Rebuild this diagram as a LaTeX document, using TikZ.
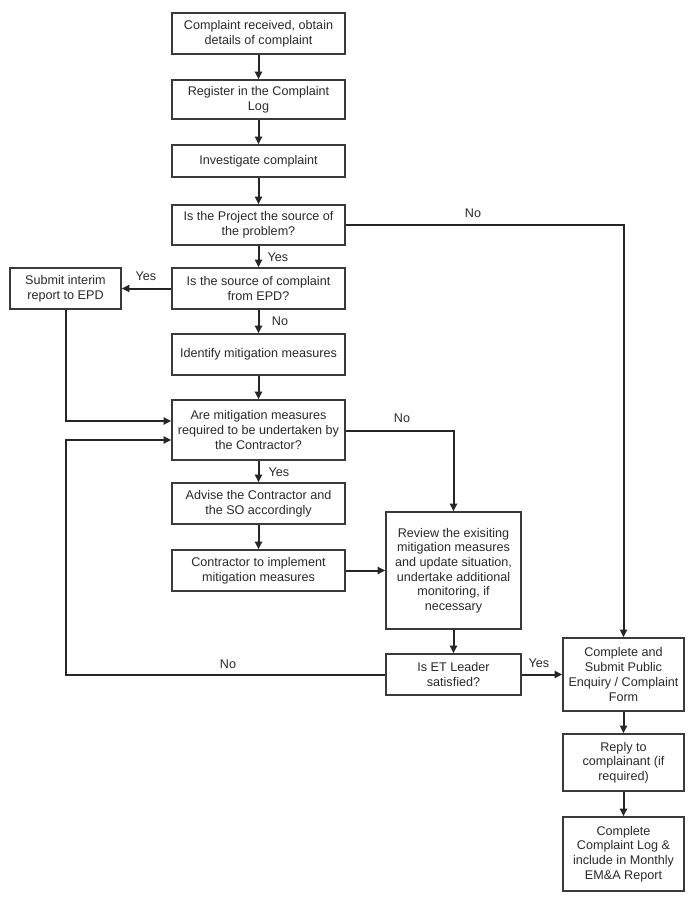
\documentclass[tikz,border=0pt]{standalone}
\usepackage{fontspec}
\setmainfont{Liberation Sans}
\usetikzlibrary{arrows.meta}
\definecolor{txt}{HTML}{2A2A2A}
\definecolor{bord}{HTML}{3A3A3A}
\begin{document}
\begin{tikzpicture}[x=1pt,y=-1pt,
  every node/.style={font=\fontsize{12.6}{14.7}\selectfont, text=txt},
  box/.style={draw=bord, line width=1.6pt, rectangle, align=center, inner sep=2pt},
  lbl/.style={inner sep=0pt},
  conn/.style={draw=black!85, line width=2pt},
  arr/.style={conn, -{Triangle[length=7.5pt,width=7pt]}}]
\useasboundingbox (0,0) rectangle (693,899);
\fill[white] (0,0) rectangle (693,899);
% main column
\node[box, minimum width=173pt, minimum height=41pt] (b1) at (258.5,33.5) {Complaint received, obtain\\details of complaint};
\node[box, minimum width=173pt, minimum height=39pt] (b2) at (258.5,99.5) {Register in the Complaint\\Log};
\node[box, minimum width=173pt, minimum height=32pt] (b3) at (258.5,161) {Investigate complaint};
\node[box, minimum width=173pt, minimum height=40pt] (b4) at (258.5,225) {Is the Project the source of\\the problem?};
\node[box, minimum width=173pt, minimum height=41pt] (b5) at (258.5,288.5) {Is the source of complaint\\from EPD?};
\node[box, minimum width=111pt, minimum height=41pt] (sub) at (65.5,288.5) {Submit interim\\report to EPD};
\node[box, minimum width=173pt, minimum height=41pt] (idm) at (258.5,354.5) {Identify mitigation measures};
\node[box, minimum width=173pt, minimum height=60pt] (are) at (258.5,430) {Are mitigation measures\\required to be undertaken by\\the Contractor?};
\node[box, minimum width=173pt, minimum height=41pt] (adv) at (258.5,503.5) {Advise the Contractor and\\the SO accordingly};
\node[box, minimum width=173pt, minimum height=41pt] (con) at (258.5,570.5) {Contractor to implement\\mitigation measures};
\node[box, minimum width=135pt, minimum height=117pt] (rev) at (453.5,570.5) {Review the exisiting\\mitigation measures\\and update situation,\\undertake additional\\monitoring, if\\necessary};
\node[box, minimum width=135pt, minimum height=41pt] (et) at (453.5,674.5) {Is ET Leader\\satisfied?};
\node[box, minimum width=121pt, minimum height=73pt] (cs) at (623.5,674.5) {Complete and\\Submit Public\\Enquiry / Complaint\\Form};
\node[box, minimum width=121pt, minimum height=57pt] (rep) at (623.5,762.5) {Reply to\\complainant (if\\required)};
\node[box, minimum width=121pt, minimum height=74pt] (log) at (623.5,854) {Complete\\Complaint Log \&\\include in Monthly\\EM\&A Report};
% helper coordinates
\coordinate (c1) at (623.5,225);
\coordinate (c2) at (65.5,421);
\coordinate (c3) at (453.5,431);
\coordinate (c4) at (65.5,674.5);
\coordinate (c5) at (65.5,440);
% connectors
\draw[arr] (b1) -- (b2);
\draw[arr] (b2) -- (b3);
\draw[arr] (b3) -- (b4);
\draw[arr] (b4) -- (b5);
\draw[arr] (b5) -- (sub);
\draw[arr] (b5) -- (idm);
\draw[arr] (idm) -- (are);
\draw[arr] (are) -- (adv);
\draw[arr] (adv) -- (con);
\draw[arr] (b4.east |- c1) -- (c1) -- (cs.north);
\draw[arr] (sub.south) -- (c2) -- (are.west |- c2);
\draw[arr] (are.east |- c3) -- (c3) -- (rev.north);
\draw[arr] (con) -- (con -| rev.west);
\draw[arr] (rev) -- (et);
\draw[arr] (et) -- (cs);
\draw[arr] (et.west) -- (c4) -- (c5) -- (are.west |- c5);
\draw[arr] (cs) -- (rep);
\draw[arr] (rep) -- (log);
% labels
\node[lbl] (l1) at (473,213) {No};
\node[lbl] (l2) at (278,257) {Yes};
\node[lbl] (l3) at (146,276) {Yes};
\node[lbl] (l4) at (280,321) {No};
\node[lbl] (l5) at (402,418) {No};
\node[lbl] (l6) at (279,472) {Yes};
\node[lbl] (l7) at (228,664) {No};
\node[lbl] (l8) at (539,663) {Yes};
\end{tikzpicture}
\end{document}
